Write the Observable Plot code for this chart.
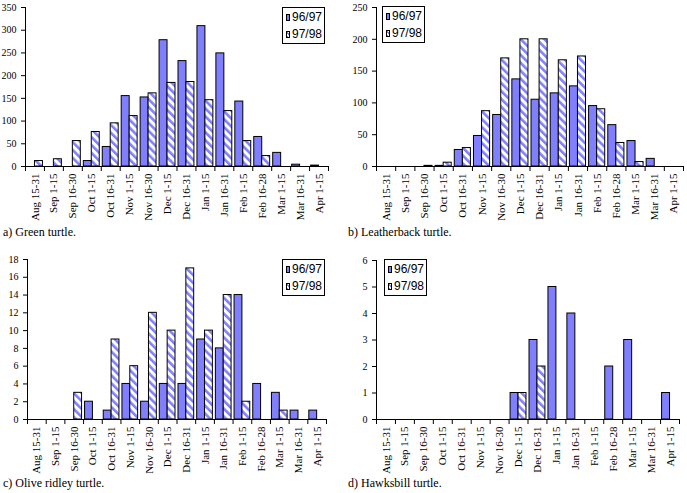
<!DOCTYPE html>
<html>
<head>
<meta charset="utf-8">
<script src="https://cdn.jsdelivr.net/npm/d3@7"></script>
<script src="https://cdn.jsdelivr.net/npm/@observablehq/plot@0.6"></script>
<style>
  body { margin: 0; background: #fff; }
  #root { position: relative; width: 687px; height: 493px; overflow: hidden; background: #fff; font-family: 'Liberation Serif', serif; }
  .panel { position: absolute; }
  .caption { position: absolute; font-family: 'Liberation Serif', serif; font-size: 12px; color: #000; white-space: nowrap; line-height: 12px; }
  .legend { position: absolute; border: 1px solid #000; background: #fff; font-family: 'Liberation Sans', sans-serif; font-size: 12px; line-height: 17px; padding: 1px 2px 0 3px; box-sizing: border-box; }
  .legend .row { display: flex; align-items: center; white-space: nowrap; }
  .legend .sw { width: 7px; height: 7px; border: 1px solid #000; margin-right: 2px; box-sizing: border-box; }
  .sw.solid { background: #8080ff; }
  .sw.hatch { background: repeating-linear-gradient(45deg, #8080ff 0 1.2px, #fff 1.2px 2.6px); }
</style>
</head>
<body>
<div id="root"></div>
<script>
const categories = ["Aug 15-31","Sep 1-15","Sep 16-30","Oct 1-15","Oct 16-31","Nov 1-15","Nov 16-30","Dec 1-15","Dec 16-31","Jan 1-15","Jan 16-31","Feb 1-15","Feb 16-28","Mar 1-15","Mar 16-31","Apr 1-15"];
const seriesNames = ["96/97", "97/98"];

const green9697 = [0, 0, 0, 12, 43, 155, 152, 278, 232, 309, 249, 143, 65, 30, 4, 2];
const green9798 = [12, 16, 56, 76, 95, 111, 161, 184, 186, 146, 122, 56, 23, 0, 0, 0];
const leather9697 = [0, 0, 0, 1, 26, 48, 81, 137, 105, 115, 126, 95, 65, 40, 12, 0];
const leather9798 = [0, 0, 1, 6, 29, 87, 170, 200, 200, 167, 173, 90, 37, 7, 0, 0];
const olive9697 = [0, 0, 0, 2, 1, 4, 2, 4, 4, 9, 8, 14, 4, 3, 1, 1];
const olive9798 = [0, 0, 3, 0, 9, 6, 12, 10, 17, 10, 14, 2, 0, 1, 0, 0];
const hawks9697 = [0, 0, 0, 0, 0, 0, 0, 1, 3, 5, 4, 0, 2, 3, 0, 1];
const hawks9798 = [0, 0, 0, 0, 0, 0, 0, 1, 2, 0, 0, 0, 0, 0, 0, 0];

const panels = [
  {id: "a", caption: "a) Green turtle.", v1: green9697, v2: green9798, yMax: 350, yStep: 50,
   left: 0, top: 0, width: 343, height: 230, mL: 25, mR: 15, mT: 7, mB: 64,
   legend: {left: 282, top: 7, width: 43, height: 37}, capLeft: 3, capTop: 226},
  {id: "b", caption: "b) Leatherback turtle.", v1: leather9697, v2: leather9798, yMax: 250, yStep: 50,
   left: 345, top: 0, width: 342, height: 230, mL: 31, mR: 4, mT: 7, mB: 64,
   legend: {left: 382, top: 6, width: 43, height: 37}, capLeft: 348, capTop: 226},
  {id: "c", caption: "c) Olive ridley turtle.", v1: olive9697, v2: olive9798, yMax: 18, yStep: 2,
   left: 0, top: 250, width: 343, height: 230, mL: 27, mR: 17, mT: 9, mB: 61,
   legend: {left: 282, top: 259, width: 43, height: 37}, capLeft: 3, capTop: 477},
  {id: "d", caption: "d) Hawksbill turtle.", v1: hawks9697, v2: hawks9798, yMax: 6, yStep: 1,
   left: 345, top: 250, width: 342, height: 230, mL: 31, mR: 8, mT: 10, mB: 61,
   legend: {left: 384, top: 259, width: 43, height: 37}, capLeft: 348, capTop: 477}
];

const serif = "Liberation Serif";
const root = document.getElementById("root");

panels.forEach(p => {
  const rows = categories.map((c, i) => ({i, cat: c, a: p.v1[i], b: p.v2[i]}));
  const patId = "hatch-" + p.id;
  const svg = Plot.plot({
    width: p.width,
    height: p.height,
    marginLeft: p.mL,
    marginRight: p.mR,
    marginTop: p.mT,
    marginBottom: p.mB,
    style: {fontFamily: serif, fontSize: "10px", color: "#000", background: "transparent", overflow: "visible"},
    x: {domain: [0, categories.length], axis: null},
    y: {domain: [0, p.yMax], axis: null},
    marks: [
      Plot.rect(rows.filter(d => d.a > 0), {x1: d => d.i + 0.08, x2: d => d.i + 0.5, y1: 0, y2: "a", fill: "#8080ff", stroke: "#000", strokeWidth: 1}),
      Plot.rect(rows.filter(d => d.b > 0), {x1: d => d.i + 0.5, x2: d => d.i + 0.92, y1: 0, y2: "b", fill: `url(#${patId})`, stroke: "#000", strokeWidth: 1}),
      Plot.ruleY([0], {stroke: "#000"}),
      Plot.ruleX([0], {stroke: "#000"}),
      Plot.axisY({ticks: d3.range(0, p.yMax + p.yStep / 2, p.yStep), tickSize: 4, tickPadding: 5, tickFormat: d3.format("d"), label: null, fontFamily: serif, fontSize: 10}),
      Plot.axisX({ticks: d3.range(categories.length + 1), tickSize: 5, tickFormat: () => "", label: null}),
      Plot.axisX({ticks: d3.range(categories.length).map(i => i + 0.5), tickSize: 0, tickPadding: 7, tickRotate: -90, tickFormat: t => categories[Math.floor(t)], label: null, fontFamily: serif, fontSize: 11})
    ]
  });
  const defs = d3.select(svg).insert("defs", ":first-child");
  const pat = defs.append("pattern")
    .attr("id", patId)
    .attr("patternUnits", "userSpaceOnUse")
    .attr("width", 5.6).attr("height", 5.6)
    .attr("patternTransform", "rotate(-45)");
  pat.append("rect").attr("width", 5.6).attr("height", 5.6).attr("fill", "#fff");
  pat.append("rect").attr("width", 2.6).attr("height", 5.6).attr("fill", "#8080ff");

  svg.classList.add("panel");
  svg.style.left = p.left + "px";
  svg.style.top = p.top + "px";
  root.appendChild(svg);

  const cap = document.createElement("div");
  cap.className = "caption";
  cap.style.left = p.capLeft + "px";
  cap.style.top = p.capTop + "px";
  cap.textContent = p.caption;
  root.appendChild(cap);

  const lg = document.createElement("div");
  lg.className = "legend";
  lg.style.left = p.legend.left + "px";
  lg.style.top = p.legend.top + "px";
  lg.style.width = p.legend.width + "px";
  lg.style.height = p.legend.height + "px";
  seriesNames.forEach((s, k) => {
    const r = document.createElement("div");
    r.className = "row";
    const sw = document.createElement("span");
    sw.className = "sw " + (k === 0 ? "solid" : "hatch");
    const t = document.createElement("span");
    t.textContent = s;
    r.appendChild(sw);
    r.appendChild(t);
    lg.appendChild(r);
  });
  root.appendChild(lg);
});
</script>
</body>
</html>
